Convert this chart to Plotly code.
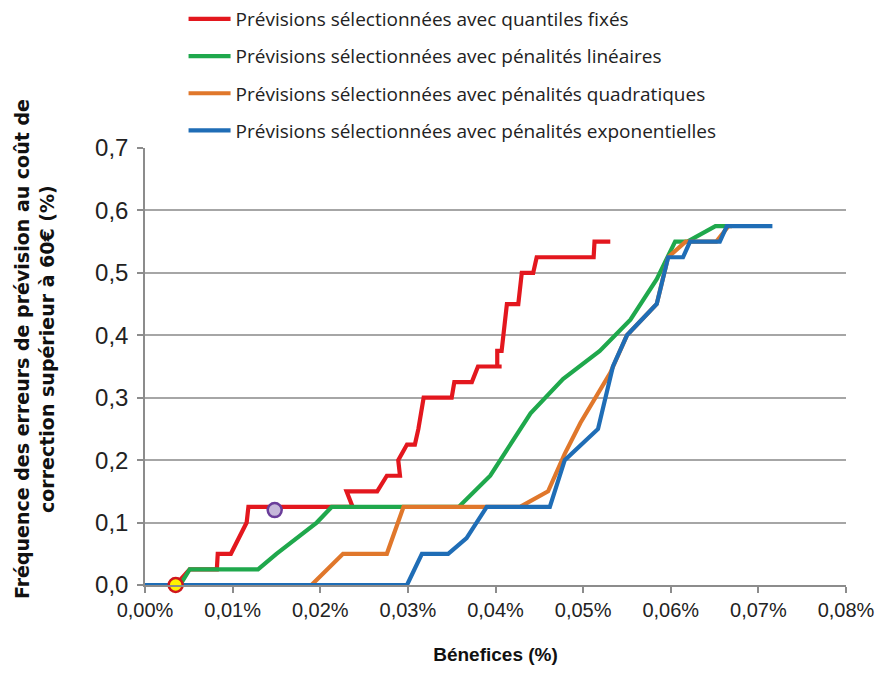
import plotly.graph_objects as go

# ---- data (x in %, y frequency) ----
series_names = [
    "Prévisions sélectionnées avec quantiles fixés",
    "Prévisions sélectionnées avec pénalités linéaires",
    "Prévisions sélectionnées avec pénalités quadratiques",
    "Prévisions sélectionnées avec pénalités exponentielles",
]
series_colors = ["#E3171E", "#1FA84C", "#E0772B", "#1F6DB6"]

red_x = [0.0035, 0.0051, 0.0082, 0.0083, 0.0098, 0.0116, 0.0118, 0.0237, 0.0230, 0.0265,
         0.0276, 0.0291, 0.0289, 0.0299, 0.0308, 0.0312, 0.0318, 0.0350, 0.0353, 0.0373,
         0.0380, 0.0407, 0.0402, 0.0402, 0.0407, 0.0413, 0.0426, 0.0430, 0.0443, 0.0447,
         0.0512, 0.0513, 0.0531]
red_y = [0.0, 0.025, 0.025, 0.05, 0.05, 0.10, 0.125, 0.125, 0.15, 0.15,
         0.175, 0.175, 0.20, 0.225, 0.225, 0.25, 0.30, 0.30, 0.325, 0.325,
         0.35, 0.35, 0.35, 0.375, 0.375, 0.45, 0.45, 0.50, 0.50, 0.525,
         0.525, 0.55, 0.55]

green_x = [0.0040, 0.0051, 0.0129, 0.0150, 0.0196, 0.0213, 0.0358, 0.0394, 0.0440, 0.0477,
           0.0519, 0.0554, 0.0584, 0.0605, 0.0619, 0.0651, 0.0664]
green_y = [0.0, 0.025, 0.025, 0.05, 0.10, 0.125, 0.125, 0.175, 0.275, 0.33,
           0.375, 0.425, 0.49, 0.55, 0.55, 0.575, 0.575]

orange_x = [0.0190, 0.0226, 0.0276, 0.0295, 0.0428, 0.0460, 0.0479, 0.0497, 0.0531, 0.0550,
            0.0584, 0.0597, 0.0617, 0.0652, 0.0666, 0.0670]
orange_y = [0.0, 0.05, 0.05, 0.125, 0.125, 0.15, 0.21, 0.26, 0.34, 0.40,
            0.45, 0.525, 0.55, 0.55, 0.575, 0.575]

blue_x = [0.0, 0.0299, 0.0316, 0.0346, 0.0367, 0.0390, 0.0462, 0.0479, 0.0517, 0.0534,
          0.0550, 0.0584, 0.0597, 0.0614, 0.0622, 0.0656, 0.0664, 0.0716]
blue_y = [0.0, 0.0, 0.05, 0.05, 0.075, 0.125, 0.125, 0.20, 0.25, 0.35,
          0.40, 0.45, 0.525, 0.525, 0.55, 0.55, 0.575, 0.575]

marker_yellow = (0.0035, 0.0)
marker_purple = (0.0148, 0.12)

x_tickvals = [0.0, 0.01, 0.02, 0.03, 0.04, 0.05, 0.06, 0.07, 0.08]
x_ticktext = ["0,00%", "0,01%", "0,02%", "0,03%", "0,04%", "0,05%", "0,06%", "0,07%", "0,08%"]
y_tickvals = [0.0, 0.1, 0.2, 0.3, 0.4, 0.5, 0.6, 0.7]
y_ticktext = ["0,0", "0,1", "0,2", "0,3", "0,4", "0,5", "0,6", "0,7"]

fig = go.Figure()
for name, col, xs, ys in zip(series_names, series_colors,
                             [red_x, green_x, orange_x, blue_x],
                             [red_y, green_y, orange_y, blue_y]):
    fig.add_trace(go.Scatter(x=xs, y=ys, mode="lines", name=name, legendgroup=name,
                             line=dict(color=col, width=4.2), cliponaxis=False))

fig.add_trace(go.Scatter(x=[marker_yellow[0]], y=[marker_yellow[1]], mode="markers",
                         marker=dict(size=14, color="#FFF200", line=dict(color="#D0161C", width=2.5)),
                         showlegend=False, cliponaxis=False))
fig.add_trace(go.Scatter(x=[marker_purple[0]], y=[marker_purple[1]], mode="markers",
                         marker=dict(size=14, color="#C6B8DA", line=dict(color="#6A3D9A", width=2.5)),
                         showlegend=False, cliponaxis=False))

tick_font = "Liberation Sans Narrow, Liberation Sans, Arial, sans-serif"
legend_font = "Open Sans, Liberation Sans, sans-serif"
fig.update_layout(
    width=876, height=675,
    margin=dict(l=145, r=30, t=148, b=90, autoexpand=False),
    paper_bgcolor="white", plot_bgcolor="white",
    font=dict(family=tick_font, size=16, color="#222222"),
    legend=dict(x=0.055, y=1.3387, xanchor="left", yanchor="top",
                font=dict(family=legend_font, size=19, color="#222222"), itemwidth=42,
                tracegroupgap=9.5, bgcolor="rgba(0,0,0,0)"),
    xaxis=dict(range=[0, 0.08], tickvals=x_tickvals, ticktext=x_ticktext, automargin=False,
               showgrid=False, zeroline=False, showline=True, linecolor="#8C8C8C", linewidth=1.5,
               ticks="outside", ticklen=6, tickcolor="#8C8C8C", tickwidth=1.5,
               tickfont=dict(family=tick_font, size=20, color="#222222"),
               title=dict(text="<b>Bénefices (%)</b>",
                          font=dict(family="Liberation Sans, Arial, sans-serif", size=19, color="#111111"),
                          standoff=28)),
    yaxis=dict(range=[0, 0.7], tickvals=y_tickvals, ticktext=y_ticktext, automargin=False,
               showgrid=True, gridcolor="#A6A6A6", gridwidth=1.5, zeroline=False,
               showline=True, linecolor="#8C8C8C", linewidth=1.5,
               ticks="outside", ticklen=6, tickcolor="#8C8C8C", tickwidth=1.5,
               ticklabelstandoff=4,
               tickfont=dict(family=tick_font, size=24, color="#222222")),
    annotations=[dict(
        text="<b>Fréquence des erreurs de prévision au coût de<br>correction supérieur à 60€ (%)</b>",
        xref="paper", yref="paper", x=-0.1583, y=0.54, xanchor="center", yanchor="middle",
        textangle=-90, showarrow=False,
        font=dict(family="DejaVu Sans, sans-serif", size=19, color="#111111"))],
)

fig.write_html("out.html", config={"displayModeBar": False},
               post_script="document.body.style.margin='0';")
